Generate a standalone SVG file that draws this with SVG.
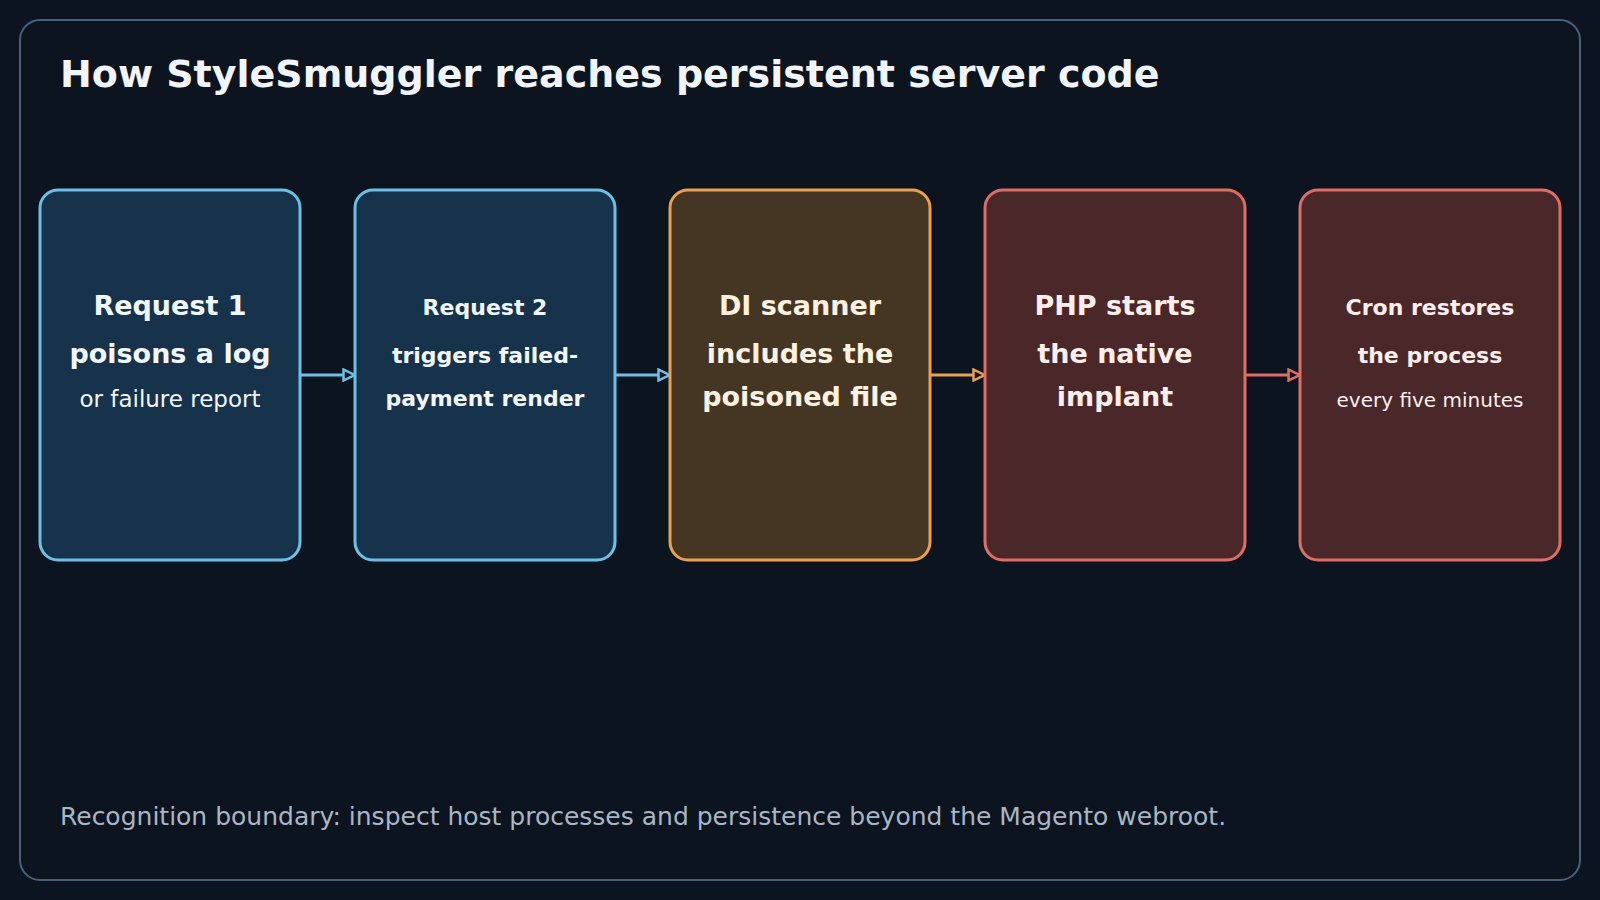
<svg xmlns="http://www.w3.org/2000/svg" width="1600" height="900" viewBox="0 0 1600 900">
<defs>
<style>
.t{font-family:"DejaVu Sans","Liberation Sans",sans-serif;text-anchor:middle}
.b{font-weight:bold}
.blue rect{fill:#17324b;stroke:#6cc0e8;stroke-width:3}
.amber rect{fill:#453623;stroke:#e9a050;stroke-width:3}
.red rect{fill:#4a2829;stroke:#e06c66;stroke-width:3}
.blue text{fill:#f1f6fb}
.amber text{fill:#fdf1e0}
.red text{fill:#fdeeec}
.c{fill:none;stroke-width:3}
</style>
<marker id="mb" viewBox="0 0 14 14" refX="13" refY="7" markerWidth="14" markerHeight="14" markerUnits="userSpaceOnUse" orient="auto"><path d="M1.5,1.5 L12.5,7 L1.5,12.5 Z" fill="#0c1420" stroke="#6cc0e8" stroke-width="2.5"/></marker>
<marker id="ma" viewBox="0 0 14 14" refX="13" refY="7" markerWidth="14" markerHeight="14" markerUnits="userSpaceOnUse" orient="auto"><path d="M1.5,1.5 L12.5,7 L1.5,12.5 Z" fill="#0c1420" stroke="#e9a050" stroke-width="2.5"/></marker>
<marker id="mr" viewBox="0 0 14 14" refX="13" refY="7" markerWidth="14" markerHeight="14" markerUnits="userSpaceOnUse" orient="auto"><path d="M1.5,1.5 L12.5,7 L1.5,12.5 Z" fill="#0c1420" stroke="#e06c66" stroke-width="2.5"/></marker>
</defs>
<rect width="1600" height="900" fill="#0b1420"/>
<rect x="20" y="20" width="1560" height="860" rx="20" fill="#0c1420" stroke="#4c6078" stroke-width="2"/>
<text x="60" y="87" font-family="DejaVu Sans, Liberation Sans, sans-serif" font-weight="bold" font-size="38" fill="#f1f5fa">How StyleSmuggler reaches persistent server code</text>

<g id="connectors">
<line class="c" x1="300" y1="375" x2="355" y2="375" stroke="#6cc0e8" marker-end="url(#mb)"/>
<line class="c" x1="615" y1="375" x2="670" y2="375" stroke="#6cc0e8" marker-end="url(#mb)"/>
<line class="c" x1="930" y1="375" x2="985" y2="375" stroke="#e9a050" marker-end="url(#ma)"/>
<line class="c" x1="1245" y1="375" x2="1300" y2="375" stroke="#e06c66" marker-end="url(#mr)"/>
</g>

<g id="node1" class="blue">
<rect x="40" y="190" width="260" height="370" rx="18"/>
<text class="t b" x="170" y="315" font-size="27">Request 1</text>
<text class="t b" x="170" y="363" font-size="27">poisons a log</text>
<text class="t" x="170" y="407" font-size="23">or failure report</text>
</g>
<g id="node2" class="blue">
<rect x="355" y="190" width="260" height="370" rx="18"/>
<text class="t b" x="485" y="315" font-size="22">Request 2</text>
<text class="t b" x="485" y="363" font-size="22">triggers failed-</text>
<text class="t b" x="485" y="406" font-size="22">payment render</text>
</g>
<g id="node3" class="amber">
<rect x="670" y="190" width="260" height="370" rx="18"/>
<text class="t b" x="800" y="315" font-size="27">DI scanner</text>
<text class="t b" x="800" y="363" font-size="27">includes the</text>
<text class="t b" x="800" y="406" font-size="27">poisoned file</text>
</g>
<g id="node4" class="red">
<rect x="985" y="190" width="260" height="370" rx="18"/>
<text class="t b" x="1115" y="315" font-size="27">PHP starts</text>
<text class="t b" x="1115" y="363" font-size="27">the native</text>
<text class="t b" x="1115" y="406" font-size="27">implant</text>
</g>
<g id="node5" class="red">
<rect x="1300" y="190" width="260" height="370" rx="18"/>
<text class="t b" x="1430" y="315" font-size="22">Cron restores</text>
<text class="t b" x="1430" y="363" font-size="22">the process</text>
<text class="t" x="1430" y="407" font-size="20">every five minutes</text>
</g>

<text x="60" y="825" font-family="DejaVu Sans, Liberation Sans, sans-serif" font-size="25" fill="#a9b6c6">Recognition boundary: inspect host processes and persistence beyond the Magento webroot.</text>
</svg>
